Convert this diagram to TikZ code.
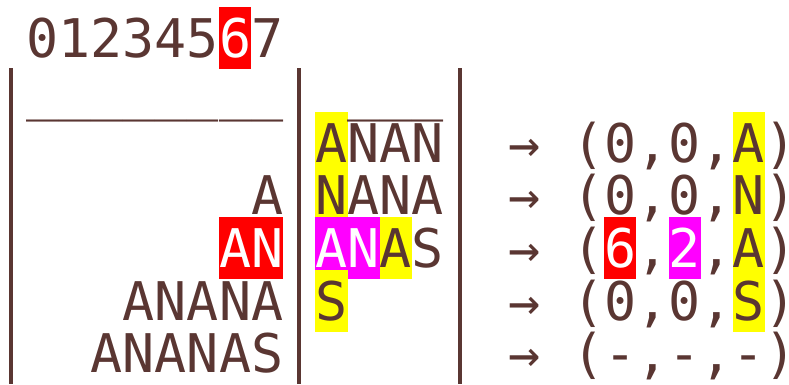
\documentclass[tikz,border=0pt]{standalone}
\usepackage{fontspec}
\newfontfamily\monofnt{DejaVu Sans Mono}
\definecolor{ink}{RGB}{90,54,50}
\definecolor{hred}{RGB}{255,0,0}
\definecolor{hyel}{RGB}{255,255,0}
\definecolor{hmag}{RGB}{255,0,255}
\tikzset{
  txt/.style={inner sep=0pt, outer sep=0pt, anchor=base west, text=ink,
    font=\monofnt\fontsize{53.3}{53.3}\selectfont},
  bar/.style={draw=ink, line width=4pt},
  zdot/.style={circle, fill=ink, draw=none, inner sep=0pt, minimum size=5.2pt}
}
% highlight: colour, first cell, last cell, baseline
\newcommand{\hlbox}[4]{\fill[#1] ({26.5+32.1*(#2)},{#4-50}) rectangle ({26.5+32.1*(#3+1)},{#4+12});}
\begin{document}
\begin{tikzpicture}[x=1pt,y=-1pt]
\useasboundingbox (0,0) rectangle (789,384);
% backgrounds, in row order
\hlbox{hred}{6}{6}{57}
\hlbox{hyel}{9}{9}{162.2}
\hlbox{hyel}{22}{22}{162.2}
\hlbox{hyel}{9}{9}{214.8}
\hlbox{hyel}{22}{22}{214.8}
\hlbox{hred}{6}{7}{267.4}
\hlbox{hmag}{9}{10}{267.4}
\hlbox{hyel}{11}{11}{267.4}
\hlbox{hred}{18}{18}{267.4}
\hlbox{hmag}{20}{20}{267.4}
\hlbox{hyel}{22}{22}{267.4}
\hlbox{hyel}{9}{9}{320}
\hlbox{hyel}{22}{22}{320}
% bars
\coordinate (b1t) at ({26.5-16},68);
\coordinate (b1b) at ({26.5-16},384);
\coordinate (b2t) at ({26.5+32.1*8+16},68);
\coordinate (b2b) at ({26.5+32.1*8+16},384);
\coordinate (b3t) at ({26.5+32.1*13+16},68);
\coordinate (b3b) at ({26.5+32.1*13+16},384);
\draw[bar] (b1t) -- (b1b);
\draw[bar] (b2t) -- (b2b);
\draw[bar] (b3t) -- (b3b);
% header
\node[txt] (head) at ({26.5},57) {012345\textcolor{white}{6}7};
% left column
\node[txt] (l1) at ({26.5},109.6) {\_\_\_\_\_\_\_\_};
\node[txt] (l3) at ({26.5+32.1*7},214.8) {A};
\node[txt] (l4) at ({26.5+32.1*6},267.4) {\textcolor{white}{AN}};
\node[txt] (l5) at ({26.5+32.1*3},320) {ANANA};
\node[txt] (l6) at ({26.5+32.1*2},372.6) {ANANAS};
% middle column
\node[txt] (m1) at ({26.5+32.1*10},109.6) {\_\_\_};
\node[txt] (m2) at ({26.5+32.1*9},162.2) {ANAN};
\node[txt] (m3) at ({26.5+32.1*9},214.8) {NANA};
\node[txt] (m4) at ({26.5+32.1*9},267.4) {\textcolor{white}{AN}AS};
\node[txt] (m5) at ({26.5+32.1*9},320) {S};
% arrows
\node[txt] (a2) at ({26.5+32.1*15},162.2) {→};
\node[txt] (a3) at ({26.5+32.1*15},214.8) {→};
\node[txt] (a4) at ({26.5+32.1*15},267.4) {→};
\node[txt] (a5) at ({26.5+32.1*15},320) {→};
\node[txt] (a6) at ({26.5+32.1*15},372.6) {→};
% tuples
\node[txt] (t2) at ({26.5+32.1*17},162.2) {(0,0,A)};
\node[txt] (t3) at ({26.5+32.1*17},214.8) {(0,0,N)};
\node[txt] (t4) at ({26.5+32.1*17},267.4) {(\textcolor{white}{6},\textcolor{white}{2},A)};
\node[txt] (t5) at ({26.5+32.1*17},320) {(0,0,S)};
\node[txt] (t6) at ({26.5+32.1*17},372.6) {(-,-,-)};
% dotted zeros
\node[zdot] (z0) at ({26.5+16},37.4) {};
\node[zdot] (z1) at ({26.5+32.1*18+16},142.6) {};
\node[zdot] (z2) at ({26.5+32.1*20+16},142.6) {};
\node[zdot] (z3) at ({26.5+32.1*18+16},195.2) {};
\node[zdot] (z4) at ({26.5+32.1*20+16},195.2) {};
\node[zdot] (z5) at ({26.5+32.1*18+16},300.4) {};
\node[zdot] (z6) at ({26.5+32.1*20+16},300.4) {};
\end{tikzpicture}
\end{document}
